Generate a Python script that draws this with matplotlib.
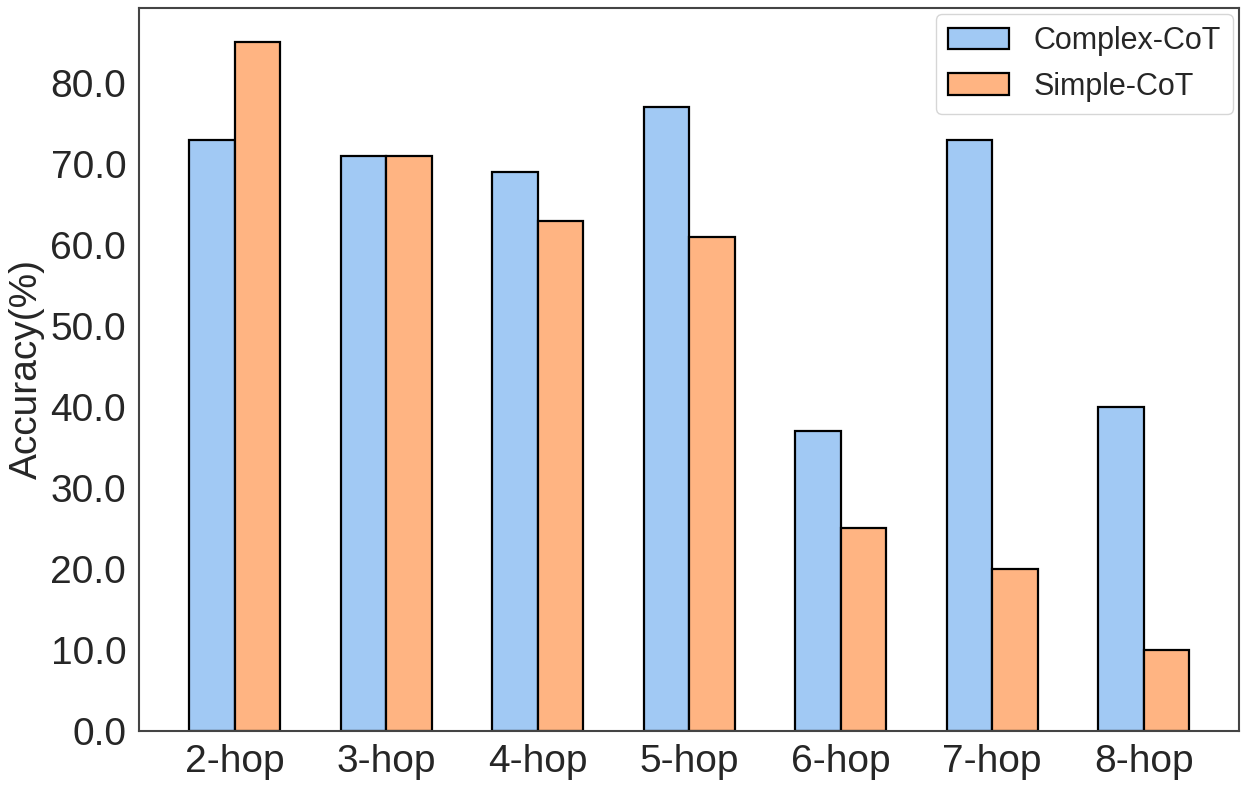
import matplotlib.pyplot as plt
import seaborn as sns
import numpy as np

sns.set_theme(style="white")
plt.rcParams['font.family'] = ['Liberation Sans', 'DejaVu Sans']

hops = ['2-hop', '3-hop', '4-hop', '5-hop', '6-hop', '7-hop', '8-hop']
complex_cot = [73, 71, 69, 77, 37, 73, 40]
simple_cot = [85, 71, 63, 61, 25, 20, 10]

colors = sns.color_palette("pastel")
width = 0.3
x = np.arange(len(hops))

fig, ax = plt.subplots(figsize=(12.44, 7.92), dpi=100)
fig.subplots_adjust(left=0.112, right=0.996, top=0.99, bottom=0.077)

ax.bar(x - width / 2, complex_cot, width, color=colors[0], edgecolor='black', linewidth=1.6, label='Complex-CoT')
ax.bar(x + width / 2, simple_cot, width, color=colors[1], edgecolor='black', linewidth=1.6, label='Simple-CoT')

ax.set_xticks(x)
ax.set_xticklabels(hops, fontsize=28)
ax.set_yticks(np.arange(0, 90, 10))
ax.set_yticklabels([f'{v:.1f}' for v in np.arange(0, 90, 10)], fontsize=28)
ax.set_ylabel('Accuracy(%)', fontsize=28)
ax.legend(fontsize=22, loc='upper right', borderaxespad=0.2)

for s in ax.spines.values():
    s.set_linewidth(1.5)
    s.set_color('#444444')

plt.savefig('out.png', dpi=100)
